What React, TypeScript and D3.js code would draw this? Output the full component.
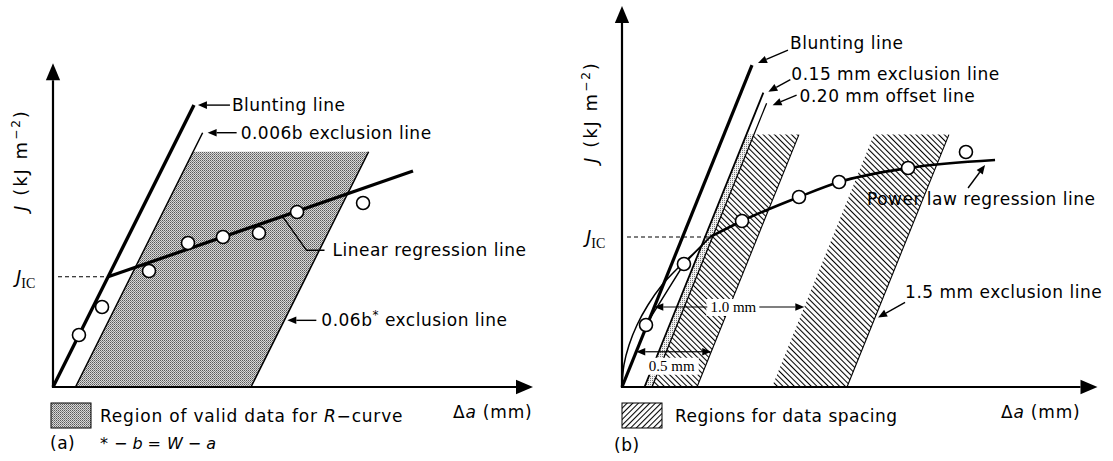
import React from 'react';
import * as d3 from 'd3';

const W = 1113;
const H = 461;

// ---- Panel (a): linear regression construction ----
const aCrackExt = [0.173, 0.327, 0.64, 0.9, 1.133, 1.373, 1.627, 2.067];
const aJValues = [54.6, 84.0, 121.8, 151.2, 157.5, 161.7, 183.7, 193.2];
const aBluntingSlope = 315; // J per mm of crack extension
const aBluntingTopJ = 296;
const aExclusionOffsets = [0.15, 1.32]; // 0.006b and 0.06b* lines
const aExclusionTopJ = [267, 247];
const aValidTopJ = 247;
const aRegIntercept = 95.7;
const aRegSlope = 54.6;
const aRegEnd = 2.4;
const aAxisMax = [3.2, 340];

// ---- Panel (b): power-law construction ----
const bCrackExt = [0.16, 0.413, 0.8, 1.18, 1.447, 1.907, 2.293];
const bJValues = [65.1, 129.1, 174.3, 199.5, 215.2, 229.9, 246.7];
const bBluntingSlope = 390;
const bBluntingTopJ = 338;
const bOffsetLines = [0.15, 0.2];
const bOffsetTopJ = [309, 298];
const bSpacingRegions = [
  [0.2, 0.5],
  [1.0, 1.5],
];
const bRegionTopJ = 265;
const bJic = 157.5;
const bPowerLawDa = [0.587, 0.8, 1.18, 1.447, 1.907, 2.487];
const bPowerLawJ = [157.5, 174.3, 199.5, 215.2, 229.9, 238.3];
const bLowCurveDa = [0, 0.013, 0.047, 0.1, 0.173, 0.267, 0.373, 0.487, 0.587];
const bLowCurveJ = [0, 23.1, 44.1, 65.1, 86.1, 107.1, 124.9, 141.7, 157.5];
const bDimLabels = ['1.0 mm', '0.5 mm'];
const bDimSpans = [1.0, 0.5];
const bDimJ = [84, 37];
const bAxisMax = [3.17, 400];

const FONT = "'DejaVu Sans', sans-serif";
const SERIF = "'Liberation Serif', 'DejaVu Serif', serif";

const xA = d3.scaleLinear().domain([0, 3.2]).range([53, 533]);
const yA = d3.scaleLinear().domain([0, 340]).range([387, 63.2]);
const xB = d3.scaleLinear().domain([0, 3.2]).range([622, 1102]);
const yB = d3.scaleLinear().domain([0, 400]).range([387, 6]);

type P = [number, number];

function Arrow({ tip, tail, size = 9, width = 1.4 }: { tip: P; tail: P; size?: number; width?: number }) {
  const ang = Math.atan2(tip[1] - tail[1], tip[0] - tail[0]);
  const half = size * 0.42;
  const bx = tip[0] - size * Math.cos(ang);
  const by = tip[1] - size * Math.sin(ang);
  const p1: P = [bx + half * Math.sin(ang), by - half * Math.cos(ang)];
  const p2: P = [bx - half * Math.sin(ang), by + half * Math.cos(ang)];
  return (
    <g>
      <line x1={tail[0]} y1={tail[1]} x2={bx} y2={by} stroke="#000" strokeWidth={width} />
      <polygon points={`${tip[0]},${tip[1]} ${p1[0]},${p1[1]} ${p2[0]},${p2[1]}`} fill="#000" />
    </g>
  );
}

function AxisArrows({ x0, y0, x1, y1 }: { x0: number; y0: number; x1: number; y1: number }) {
  return (
    <g>
      <Arrow tip={[x0, y1]} tail={[x0, y0 + 1]} size={17} width={2.2} />
      <Arrow tip={[x1, y0]} tail={[x0 - 1, y0]} size={17} width={2.2} />
    </g>
  );
}

function YLabel({ x, y }: { x: number; y: number }) {
  return (
    <text
      transform={`translate(${x},${y}) rotate(-90)`}
      textAnchor="middle"
      fontFamily={FONT}
      fontSize={18}
      letterSpacing={2}
    >
      <tspan fontStyle="italic">J</tspan>
      <tspan> (kJ m</tspan>
      <tspan dy={-7} fontSize={12}>−2</tspan>
      <tspan dy={7}>)</tspan>
    </text>
  );
}

function JicLabel({ x, y }: { x: number; y: number }) {
  return (
    <text x={x} y={y + 6} fontFamily={FONT} fontSize={18}>
      <tspan fontStyle="italic">J</tspan>
      <tspan dy={5} fontFamily={SERIF} fontSize={14}>IC</tspan>
    </text>
  );
}

export default function App() {
  // ---------- panel (a) geometry ----------
  const aBluntTop: P = [xA(aBluntingTopJ / aBluntingSlope), yA(aBluntingTopJ)];
  const aExLine = (k: number, J: number): P => [xA(J / aBluntingSlope + aExclusionOffsets[k]), yA(J)];
  const aJicDa = aRegIntercept / (aBluntingSlope - aRegSlope);
  const aJic = aBluntingSlope * aJicDa;
  const aRegLine = d3
    .line<number>()
    .x((d) => xA(d))
    .y((d) => yA(aRegIntercept + aRegSlope * d));
  const validRegion = [
    aExLine(0, 0),
    aExLine(0, aValidTopJ),
    aExLine(1, aValidTopJ),
    aExLine(1, 0),
  ];
  const aEx0Top = aExLine(0, aExclusionTopJ[0]);
  const aEx1Top = aExLine(1, aExclusionTopJ[1]);
  const aEx1Mark = aExLine(1, 70);
  const leaderDa = 1.53;
  const leaderStart: P = [xA(leaderDa), yA(aRegIntercept + aRegSlope * leaderDa)];

  // ---------- panel (b) geometry ----------
  const bLine = (offset: number, J: number): P => [xB(J / bBluntingSlope + offset), yB(J)];
  const bBluntTop = bLine(0, bBluntingTopJ);
  const bOffTops = bOffsetLines.map((o, i) => bLine(o, bOffsetTopJ[i]));
  const powerLaw = d3
    .line<number>()
    .x((d) => xB(d))
    .y((_, i) => yB(bPowerLawJ[i]))
    .curve(d3.curveMonotoneX)(bPowerLawDa);
  const lowCurve = d3
    .line<number>()
    .x((d) => xB(d))
    .y((_, i) => yB(bLowCurveJ[i]))
    .curve(d3.curveCatmullRom)(bLowCurveDa);
  const bJicPoint: P = [xB(bPowerLawDa[0]), yB(bJic)];
  const firstPointsPath = d3.line()([
    [xB(bCrackExt[0]), yB(bJValues[0])],
    [xB(bCrackExt[1]), yB(bJValues[1])],
    bJicPoint,
  ] as [number, number][]);
  const plEnd: P = [xB(bPowerLawDa[bPowerLawDa.length - 1]), yB(bPowerLawJ[bPowerLawJ.length - 1])];
  const ex15Mark = bLine(1.5, 73);

  return (
    <svg
      width={W}
      height={H}
      viewBox={`0 0 ${W} ${H}`}
      style={{ position: 'absolute', left: 0, top: 0, background: '#fff' }}
    >
      <defs>
        <pattern id="stipple" width={2} height={2} patternUnits="userSpaceOnUse">
          <rect width={2} height={2} fill="#d8d8d8" />
          <rect x={0} y={0} width={1} height={1} fill="#5a5a5a" />
          <rect x={1} y={1} width={1} height={1} fill="#858585" />
        </pattern>
        <pattern id="stippleLight" width={2} height={2} patternUnits="userSpaceOnUse">
          <rect width={2} height={2} fill="#f2f2f2" />
          <rect x={0} y={0} width={1} height={1} fill="#7a7a7a" />
        </pattern>
        <pattern
          id="hatchBack"
          width={4}
          height={4}
          patternUnits="userSpaceOnUse"
          patternTransform="rotate(-45)"
        >
          <line x1={0.5} y1={0} x2={0.5} y2={4} stroke="#000" strokeWidth={1.1} />
        </pattern>
        <pattern
          id="hatchFwd"
          width={4}
          height={4}
          patternUnits="userSpaceOnUse"
          patternTransform="rotate(45)"
        >
          <line x1={0.5} y1={0} x2={0.5} y2={4} stroke="#000" strokeWidth={1.1} />
        </pattern>
      </defs>

      {/* ================= panel (a) ================= */}
      <polygon points={validRegion.map((p) => p.join(',')).join(' ')} fill="url(#stipple)" />
      <AxisArrows x0={xA(0)} y0={yA(0)} x1={xA(aAxisMax[0])} y1={yA(aAxisMax[1])} />
      <YLabel x={27} y={160} />

      {/* blunting and exclusion lines */}
      <line x1={xA(0)} y1={yA(0)} x2={aBluntTop[0]} y2={aBluntTop[1]} stroke="#000" strokeWidth={3.4} />
      <line x1={aExLine(0, 0)[0]} y1={aExLine(0, 0)[1]} x2={aEx0Top[0]} y2={aEx0Top[1]} stroke="#000" strokeWidth={1.5} />
      <line x1={aExLine(1, 0)[0]} y1={aExLine(1, 0)[1]} x2={aEx1Top[0]} y2={aEx1Top[1]} stroke="#000" strokeWidth={1.5} />

      {/* J_IC construction */}
      <line
        x1={xA(0) + 5}
        y1={yA(aJic)}
        x2={xA(aJicDa)}
        y2={yA(aJic)}
        stroke="#000"
        strokeWidth={1.2}
        strokeDasharray="4,3"
      />
      <JicLabel x={16} y={yA(aJic)} />
      <path d={aRegLine([aJicDa, aRegEnd]) || ''} stroke="#000" strokeWidth={3.2} fill="none" />

      {aCrackExt.map((d, i) => (
        <circle key={`a${i}`} cx={xA(d)} cy={yA(aJValues[i])} r={6.5} fill="#fff" stroke="#000" strokeWidth={1.6} />
      ))}

      {/* annotations */}
      <Arrow tip={[aBluntTop[0] + 4, aBluntTop[1]]} tail={[aBluntTop[0] + 36, aBluntTop[1]]} />
      <text x={aBluntTop[0] + 38} y={aBluntTop[1] + 6} fontFamily={FONT} fontSize={17} letterSpacing={0.5}>
        Blunting line
      </text>
      <Arrow tip={[aEx0Top[0] + 5, aEx0Top[1]]} tail={[aEx0Top[0] + 34, aEx0Top[1]]} />
      <text x={aEx0Top[0] + 38} y={aEx0Top[1] + 6} fontFamily={FONT} fontSize={17} letterSpacing={0.5}>
        0.006b exclusion line
      </text>
      <polyline
        points={`${leaderStart[0]},${leaderStart[1]} ${leaderStart[0] + 24},${leaderStart[1] + 34} ${leaderStart[0] + 42},${leaderStart[1] + 34}`}
        fill="none"
        stroke="#000"
        strokeWidth={1.4}
      />
      <text x={leaderStart[0] + 50} y={leaderStart[1] + 40} fontFamily={FONT} fontSize={17} letterSpacing={0.5}>
        Linear regression line
      </text>
      <Arrow tip={[aEx1Mark[0] + 3, aEx1Mark[1]]} tail={[aEx1Mark[0] + 32, aEx1Mark[1]]} />
      <text x={aEx1Mark[0] + 37} y={aEx1Mark[1] + 6} fontFamily={FONT} fontSize={17} letterSpacing={0.5}>
        0.06b
        <tspan dy={-7} fontSize={12}>*</tspan>
        <tspan dy={7}> exclusion line</tspan>
      </text>

      {/* legend and captions */}
      <rect x={51} y={403} width={40} height={25} fill="url(#stipple)" stroke="#000" strokeWidth={1} />
      <text x={100} y={422} fontFamily={FONT} fontSize={17} letterSpacing={0.8}>
        Region of valid data for <tspan fontStyle="italic">R</tspan>−curve
      </text>
      <text x={50} y={449} fontFamily={FONT} fontSize={17} letterSpacing={0.5}>
        (a)
      </text>
      <text x={100} y={449} fontFamily={FONT} fontSize={16}>
        *<tspan dx={6}>−</tspan>
        <tspan dx={5} fontStyle="italic">b</tspan>
        <tspan dx={5}>=</tspan>
        <tspan dx={6} fontStyle="italic">W</tspan>
        <tspan dx={5}>−</tspan>
        <tspan dx={5} fontStyle="italic">a</tspan>
      </text>
      <text x={453} y={418} fontFamily={FONT} fontSize={17} letterSpacing={0.8}>
        Δ<tspan fontStyle="italic">a</tspan> (mm)
      </text>

      {/* ================= panel (b) ================= */}
      {bSpacingRegions.map(([o0, o1], i) => {
        const pts = [bLine(o0, 0), bLine(o0, bRegionTopJ), bLine(o1, bRegionTopJ), bLine(o1, 0)];
        return (
          <g key={`r${i}`}>
            <polygon points={pts.map((p) => p.join(',')).join(' ')} fill="url(#hatchBack)" />
            <line x1={pts[2][0]} y1={pts[2][1]} x2={pts[3][0]} y2={pts[3][1]} stroke="#000" strokeWidth={1.1} />
          </g>
        );
      })}
      {/* stippled strip between the exclusion and offset lines */}
      <polygon
        points={[
          bLine(bOffsetLines[0], 0),
          bLine(bOffsetLines[0], bRegionTopJ),
          bLine(bOffsetLines[1], bRegionTopJ),
          bLine(bOffsetLines[1], 0),
        ]
          .map((p) => p.join(','))
          .join(' ')}
        fill="url(#stippleLight)"
      />

      <AxisArrows x0={xB(0)} y0={yB(0)} x1={xB(bAxisMax[0])} y1={yB(bAxisMax[1])} />
      <YLabel x={597} y={112} />

      <line x1={xB(0)} y1={yB(0)} x2={bBluntTop[0]} y2={bBluntTop[1]} stroke="#000" strokeWidth={3.2} />
      {bOffsetLines.map((o, i) => {
        const p0 = bLine(o, 0);
        return (
          <line
            key={`o${i}`}
            x1={p0[0]}
            y1={p0[1]}
            x2={bOffTops[i][0]}
            y2={bOffTops[i][1]}
            stroke="#000"
            strokeWidth={i === 0 ? 1.8 : 1.3}
          />
        );
      })}

      {/* dimension arrows */}
      {bDimLabels.map((lab, i) => {
        const left = bLine(0, bDimJ[i]);
        const right = bLine(bDimSpans[i], bDimJ[i]);
        const mid = (left[0] + right[0]) / 2;
        const below = i === 1;
        const ty = below ? left[1] + 19 : left[1] + 5;
        const tx = below ? mid - 2 : mid + 4;
        return (
          <g key={`d${i}`}>
            <rect x={tx - 27} y={ty - 13} width={54} height={17} fill="#fff" />
            <Arrow tip={left} tail={[mid, left[1]]} size={9} width={1.2} />
            <Arrow tip={right} tail={[mid, right[1]]} size={9} width={1.2} />
            {!below && <rect x={tx - 26} y={ty - 11} width={52} height={14} fill="#fff" />}
            <text x={tx} y={ty} textAnchor="middle" fontFamily={SERIF} fontSize={15}>
              {lab}
            </text>
          </g>
        );
      })}

      {/* J_IC and regression curves */}
      <line
        x1={xB(0) + 5}
        y1={yB(bJic)}
        x2={bJicPoint[0]}
        y2={bJicPoint[1]}
        stroke="#000"
        strokeWidth={1.2}
        strokeDasharray="4,3"
      />
      <JicLabel x={586} y={yB(bJic)} />
      <path d={lowCurve || ''} fill="none" stroke="#000" strokeWidth={1.5} />
      <path d={firstPointsPath || ''} fill="none" stroke="#000" strokeWidth={1.4} />
      <path d={powerLaw || ''} fill="none" stroke="#000" strokeWidth={2.6} />

      {bCrackExt.map((d, i) => (
        <circle key={`b${i}`} cx={xB(d)} cy={yB(bJValues[i])} r={6.5} fill="#fff" stroke="#000" strokeWidth={1.6} />
      ))}

      {/* annotations */}
      <Arrow tip={[bBluntTop[0] + 6, bBluntTop[1] - 2]} tail={[bBluntTop[0] + 36, bBluntTop[1] - 15]} />
      <text x={bBluntTop[0] + 38} y={bBluntTop[1] - 16} fontFamily={FONT} fontSize={17} letterSpacing={0.5}>
        Blunting line
      </text>
      <Arrow tip={[bOffTops[0][0] + 5, bOffTops[0][1] - 1]} tail={[bOffTops[0][0] + 27, bOffTops[0][1] - 13]} />
      <text x={bOffTops[0][0] + 28} y={bOffTops[0][1] - 13} fontFamily={FONT} fontSize={17} letterSpacing={0.5}>
        0.15 mm exclusion line
      </text>
      <Arrow tip={[bOffTops[1][0] + 6, bOffTops[1][1] + 2]} tail={[bOffTops[1][0] + 30, bOffTops[1][1] - 8]} />
      <text x={bOffTops[1][0] + 33} y={bOffTops[1][1] - 1} fontFamily={FONT} fontSize={17} letterSpacing={0.5}>
        0.20 mm offset line
      </text>
      <Arrow tip={[plEnd[0] - 10, plEnd[1] + 5]} tail={[plEnd[0] - 27, plEnd[1] + 28]} />
      <text x={867} y={205} fontFamily={FONT} fontSize={17} letterSpacing={0.5}>
        Power law regression line
      </text>
      <Arrow tip={[ex15Mark[0] + 3, ex15Mark[1]]} tail={[ex15Mark[0] + 30, ex15Mark[1] - 15]} />
      <text x={ex15Mark[0] + 30} y={ex15Mark[1] - 19} fontFamily={FONT} fontSize={17} letterSpacing={0.5}>
        1.5 mm exclusion line
      </text>

      <rect x={622} y={403} width={40} height={25} fill="url(#hatchFwd)" stroke="#000" strokeWidth={1} />
      <text x={675} y={422} fontFamily={FONT} fontSize={17} letterSpacing={0.5}>
        Regions for data spacing
      </text>
      <text x={614} y={451} fontFamily={FONT} fontSize={17} letterSpacing={0.5}>
        (b)
      </text>
      <text x={1001} y={418} fontFamily={FONT} fontSize={17} letterSpacing={0.8}>
        Δ<tspan fontStyle="italic">a</tspan> (mm)
      </text>
    </svg>
  );
}
